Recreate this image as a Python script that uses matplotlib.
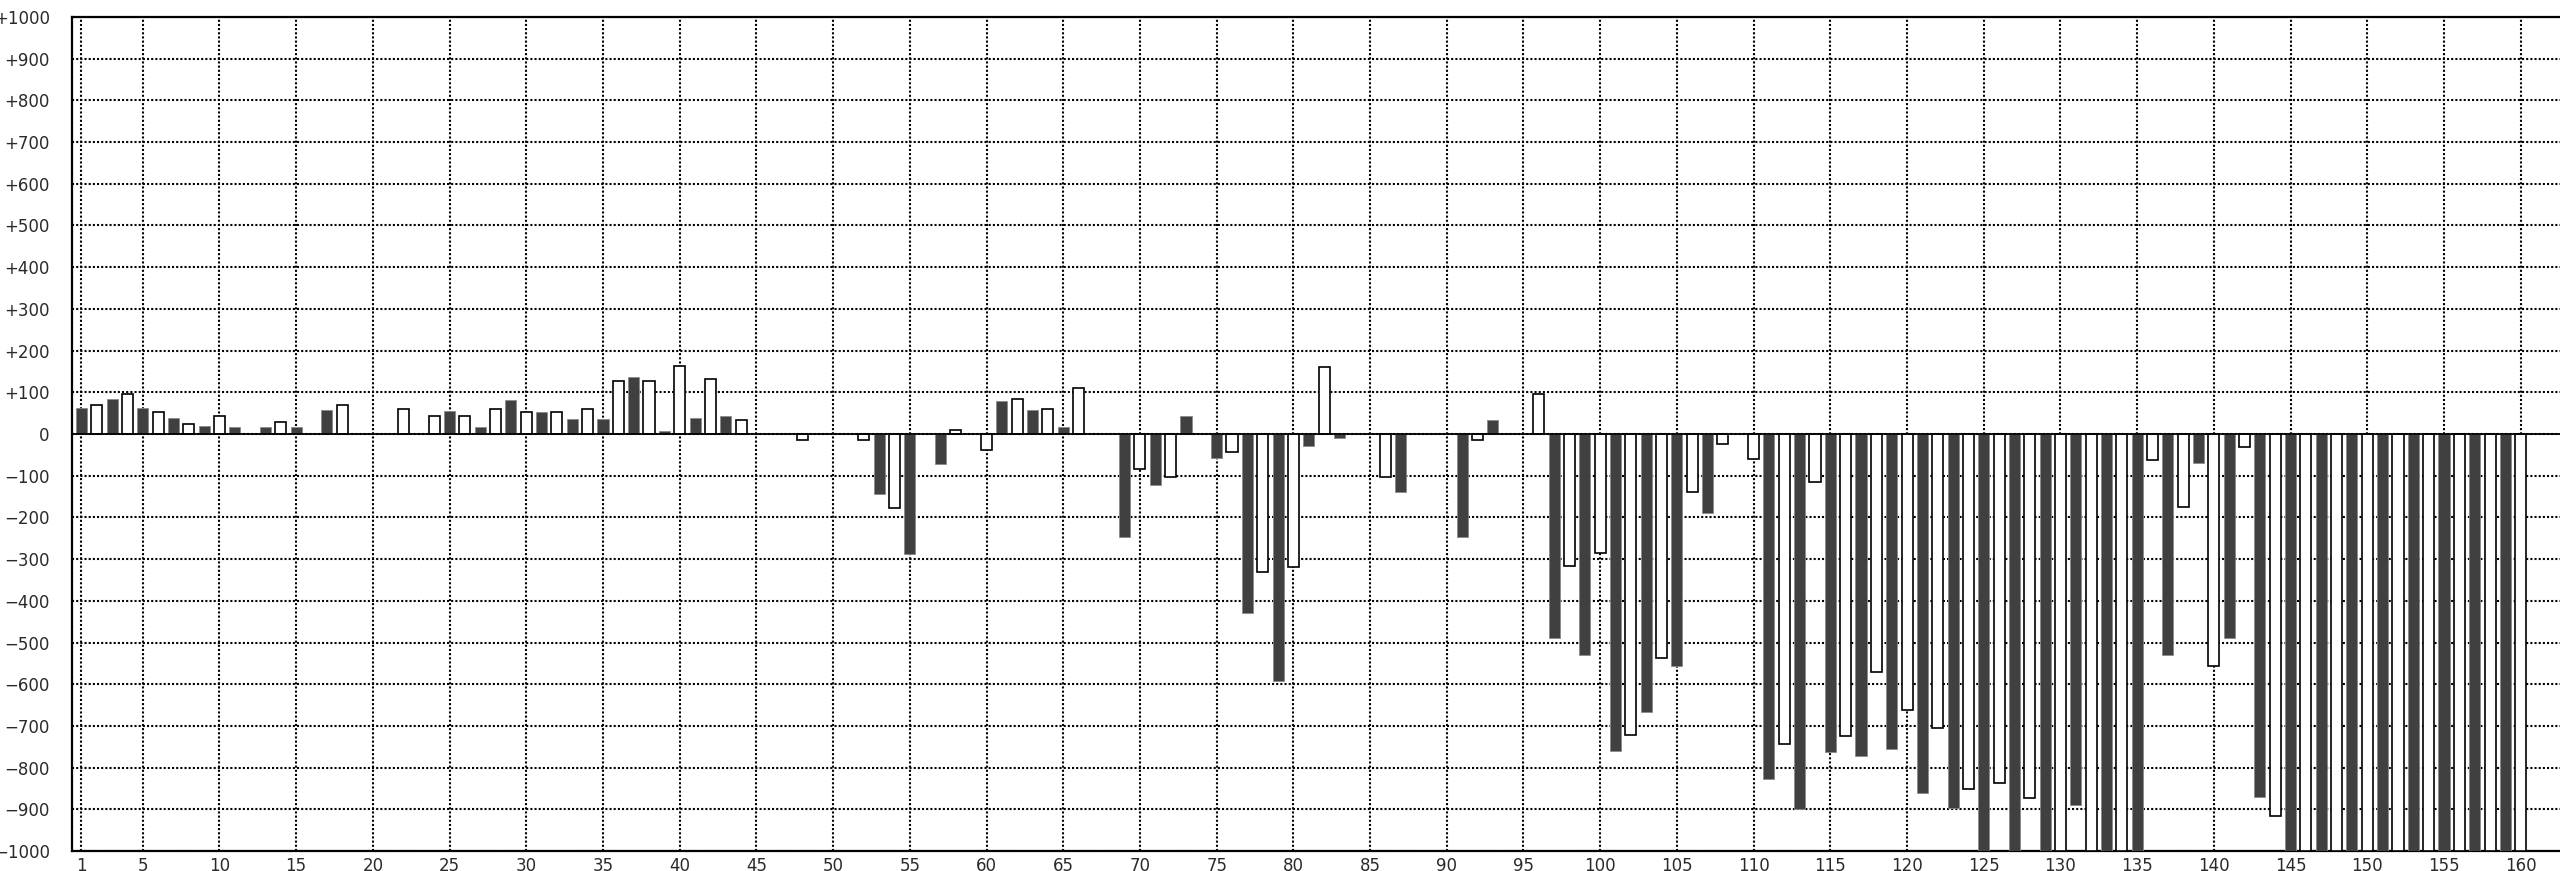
import matplotlib
matplotlib.use("agg")
import matplotlib.pyplot as plt
import numpy as np

nan = np.nan

# one bar per round, odd rounds dark, even rounds white; nan = no bar
rounds = list(range(1, 161))
scores = [
    63, 70, 85, 95, 63, 53, 39, 24, 20, 43,            # 1-10
    16, nan, 16, 29, 16, nan, 58, 70, nan, nan,        # 11-20
    nan, 61, nan, 43, 54, 43, 16, 61, 81, 52,          # 21-30
    52, 52, 35, 61, 35, 126, 136, 126, 7, 164,         # 31-40
    39, 131, 44, 34, nan, nan, nan, -14, nan, nan,     # 41-50
    nan, -14, -145, -177, -288, nan, -71, 10, nan, -38,  # 51-60
    80, 84, 57, 61, 16, 111, nan, nan, -247, -84,      # 61-70
    -122, -102, 43, nan, -57, -42, -430, -332, -592, -318,  # 71-80
    -29, 161, -10, nan, nan, -102, -140, nan, nan, nan,     # 81-90
    -246, -15, 33, nan, nan, 97, -489, -317, -530, -285,    # 91-100
    -760, -721, -667, -537, -557, -138, -189, -23, nan, -59,  # 101-110
    -828, -744, -900, -116, -763, -725, -773, -570, -756, -663,  # 111-120
    -862, -705, -896, -852, -1000, -837, -1000, -874, -1000, -1000,  # 121-130
    -890, -1000, -1000, -1000, -1000, -63, -530, -174, -70, -557,  # 131-140
    -489, -31, -870, -915, -1000, -1000, -1000, -1000, -1000, -1000,  # 141-150
    -1000, -1000, -1000, -1000, -1000, -1000, -1000, -1000, -1000, -1000,  # 151-160
]

xticks = [1] + list(range(5, 161, 5))
yticks = list(range(-1000, 1001, 100))
ylabels = ["\u2212%d" % -v if v < 0 else ("0" if v == 0 else "+%d" % v) for v in yticks]

W, H = 2560, 871
fig = plt.figure(figsize=(W / 100, H / 100), dpi=100)
ax = fig.add_axes([72 / W, 20 / H, 1 - 72 / W, 834 / H])

x = np.array(rounds)
y = np.array(scores, dtype=float)
have = ~np.isnan(y)
odd = have & (x % 2 == 1)
even = have & (x % 2 == 0)

ax.bar(x[odd], y[odd], width=0.72, color="#404040", edgecolor="#8a8a8a",
       linewidth=0.6, zorder=3)
ax.bar(x[even], y[even], width=0.72, color="white", edgecolor="black",
       linewidth=1.2, zorder=3)
ax.axhline(0, color="black", lw=1.3, zorder=4)

ax.set_xlim(0.39, 162.56)
ax.set_ylim(-1000, 1000)
ax.set_xticks(xticks)
ax.set_yticks(yticks)
ax.set_yticklabels(ylabels)
ax.tick_params(length=0, labelsize=12, labelcolor="#2a2a2a")
ax.tick_params(axis="y", pad=16)
ax.tick_params(axis="x", pad=4)

ax.set_axisbelow(True)
ax.grid(True, color="black", linestyle=(0, (1, 1)), linewidth=1.5)

for s in ["top", "left", "bottom"]:
    ax.spines[s].set_linewidth(1.6)
    ax.spines[s].set_color("black")
ax.spines["right"].set_visible(False)

fig.savefig("out.png", dpi=100)
